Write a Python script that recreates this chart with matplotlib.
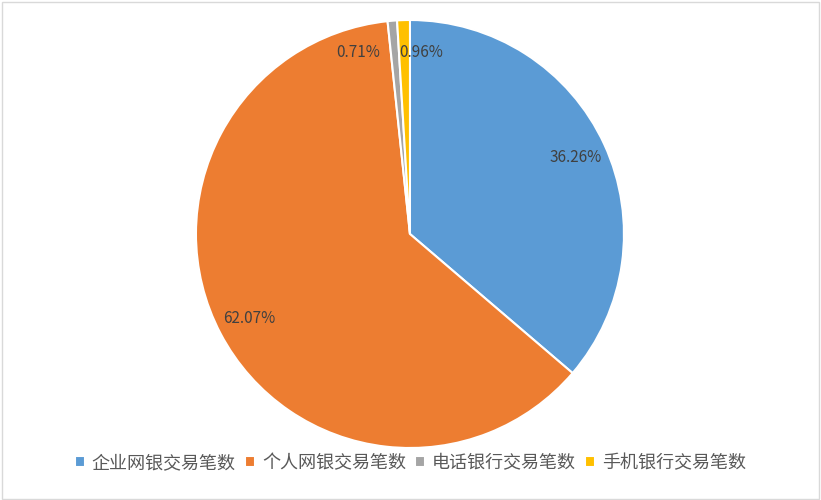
import matplotlib.pyplot as plt
from matplotlib.patches import Rectangle

plt.rcParams['font.family'] = ['Noto Sans CJK SC', 'DejaVu Sans']

labels = ['企业网银交易笔数', '个人网银交易笔数', '电话银行交易笔数', '手机银行交易笔数']
shares = [36.26, 62.07, 0.71, 0.96]
colors = ['#5B9BD5', '#ED7D31', '#A5A5A5', '#FFC000']

fig = plt.figure(figsize=(8.21, 5), dpi=100)
ax = fig.add_axes([0.2387, 0.104, 0.5213, 0.856])

wedges, texts, autotexts = ax.pie(
    shares, colors=colors, startangle=90, counterclock=False,
    autopct=lambda p: f'{p:.2f}%', pctdistance=0.85,
    wedgeprops=dict(edgecolor='white', linewidth=1.5),
    textprops=dict(color='#404040', fontsize=11))
ax.set_xlim(-1.0, 1.0)
ax.set_ylim(-1.0, 1.0)
ax.set_aspect('equal')

# the two thin slices have their labels pushed to the sides
autotexts[2].set_position((-0.14, 0.85))
autotexts[2].set_ha('right')
autotexts[3].set_position((-0.05, 0.85))
autotexts[3].set_ha('left')

leg = fig.legend(wedges, labels, loc='center', bbox_to_anchor=(0.5, 0.074),
                 ncol=4, frameon=False, fontsize=13, handlelength=0.55,
                 handleheight=0.55, handletextpad=0.4, columnspacing=0.5,
                 labelcolor='#595959')

fig.patches.append(Rectangle((0.002, 0.003), 0.995, 0.993, transform=fig.transFigure,
                             fill=False, edgecolor='#D9D9D9', linewidth=1))

fig.savefig('out.png', dpi=100)
